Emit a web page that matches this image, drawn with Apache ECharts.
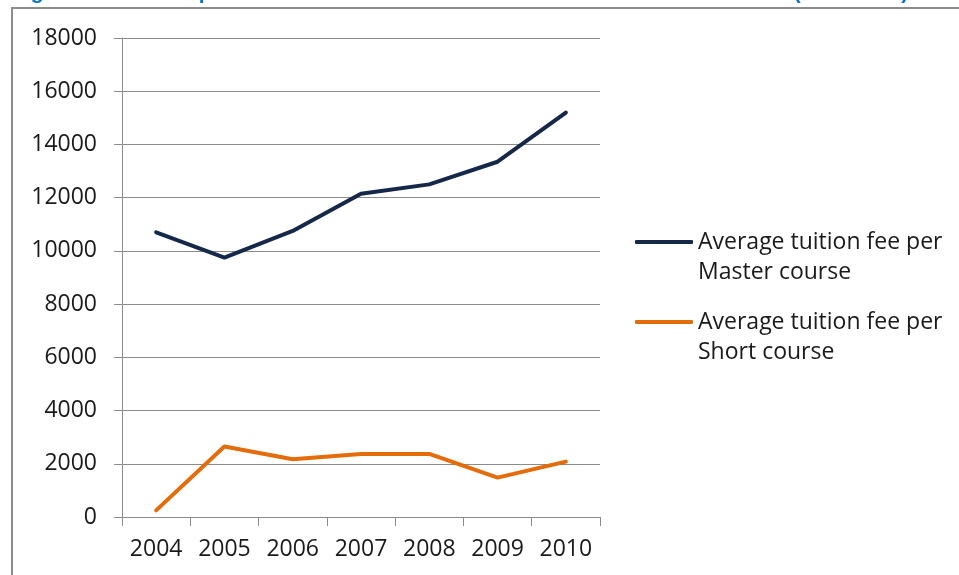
<!DOCTYPE html>
<html>
<head>
<meta charset="utf-8">
<script src="https://cdn.jsdelivr.net/npm/echarts@6/dist/echarts.min.js"></script>
<style>
  html, body { margin: 0; padding: 0; background: #fff; }
  #chart { width: 959px; height: 575px; }
</style>
</head>
<body>
<div id="chart"></div>
<script>
  // data
  var years = ['2004', '2005', '2006', '2007', '2008', '2009', '2010'];
  var masterFee = [10700, 9750, 10750, 12150, 12500, 13350, 15200];
  var shortFee = [250, 2650, 2170, 2370, 2370, 1480, 2080];
  var masterName = 'Average tuition fee per\nMaster course';
  var shortName = 'Average tuition fee per\nShort course';
  var titleText = 'Figure 6.5 - Development of tuition fees for master courses and short courses (2004-2010)';

  var font = '"Open Sans", sans-serif';
  var gridColor = '#8c8c8c';
  var textColor = '#1a1a1a';

  var myChart = echarts.init(document.getElementById('chart'));

  // legend item: a blank first line keeps the icon level with the first text line
  function legendFor(name, top) {
    return {
      data: [name],
      orient: 'vertical',
      left: 630,
      top: top,
      icon: 'roundRect',
      itemWidth: 58,
      itemHeight: 4,
      selectedMode: false,
      formatter: function (n) { return ' \n' + n; },
      textStyle: {
        fontFamily: font,
        fontSize: 23,
        color: textColor,
        lineHeight: 30
      }
    };
  }

  var option = {
    animation: false,
    graphic: [
      {
        type: 'text',
        left: 12,
        top: -17,
        style: {
          text: titleText,
          fill: '#0a72c2',
          font: 'bold 21px "Liberation Sans", Arial, sans-serif'
        }
      },
      {
        type: 'polyline',
        shape: { points: [[12, 575], [12, 8], [959, 8]] },
        style: { stroke: gridColor, lineWidth: 2, fill: null }
      }
    ],
    legend: [legendFor(masterName, 192), legendFor(shortName, 272)],
    grid: {
      left: 122,
      right: 359,
      top: 38,
      bottom: 58,
      containLabel: false
    },
    xAxis: {
      type: 'category',
      data: years,
      boundaryGap: true,
      axisLine: { lineStyle: { color: gridColor, width: 1 } },
      axisTick: { show: true, interval: 0, length: 9, lineStyle: { color: gridColor } },
      axisLabel: { interval: 0, fontFamily: font, fontSize: 23, color: textColor, margin: 21 }
    },
    yAxis: {
      type: 'value',
      min: 0,
      max: 18000,
      interval: 2000,
      axisLine: { show: true, lineStyle: { color: gridColor, width: 1 } },
      axisTick: { show: true, length: 8, lineStyle: { color: gridColor } },
      axisLabel: {
        fontFamily: font,
        fontSize: 23,
        color: textColor,
        margin: 25,
        formatter: function (v) { return String(v); }
      },
      splitLine: { lineStyle: { color: gridColor, width: 1 } }
    },
    series: [
      {
        name: masterName,
        type: 'line',
        data: masterFee,
        symbol: 'none',
        itemStyle: { color: '#16284a' },
        lineStyle: { color: '#16284a', width: 4, cap: 'round', join: 'round' }
      },
      {
        name: shortName,
        type: 'line',
        data: shortFee,
        symbol: 'none',
        itemStyle: { color: '#e46c0a' },
        lineStyle: { color: '#e46c0a', width: 4, cap: 'round', join: 'round' }
      }
    ]
  };

  myChart.setOption(option);
  window.addEventListener('resize', function () {
    myChart.resize();
  });
</script>
</body>
</html>
